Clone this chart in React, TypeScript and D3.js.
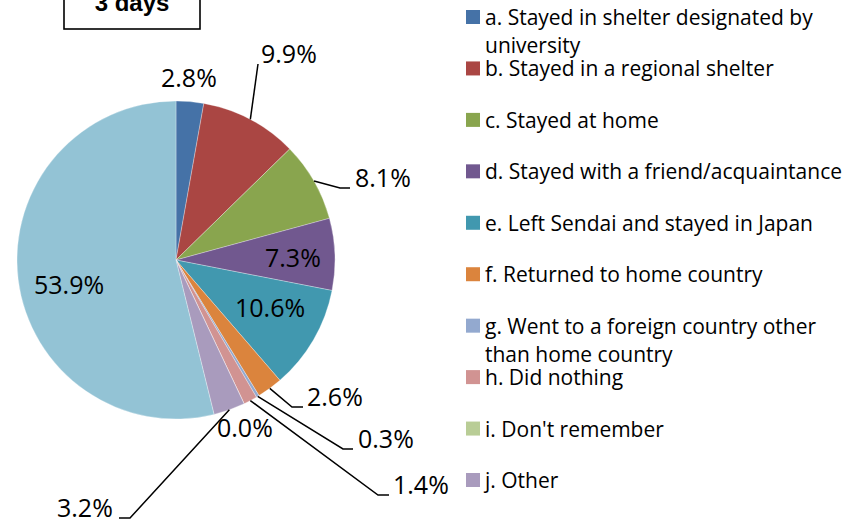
import React from "react";
import * as d3 from "d3";

const categories = [
  "a. Stayed in shelter designated by university",
  "b. Stayed in a regional shelter",
  "c. Stayed at home",
  "d. Stayed with a friend/acquaintance",
  "e. Left Sendai and stayed in Japan",
  "f. Returned to home country",
  "g. Went to a foreign country other than home country",
  "h. Did nothing",
  "i. Don't remember",
  "j. Other",
  "k. (no answer)",
];
const values = [2.8, 9.9, 8.1, 7.3, 10.6, 2.6, 0.3, 1.4, 0.0, 3.2, 53.9];
const colors = [
  "#4572A7", "#AA4643", "#89A54E", "#71588F", "#4198AF",
  "#DB843D", "#93A9CF", "#D19392", "#B9CD96", "#A99BBD", "#93C3D5",
];
// legend shows first 10 entries; line breaks as in the reference
const legendBreak = [34, null, null, null, null, null, 34, null, null, null];
const title = "3 days";

// label layout: [x, y, kind, elbowX, endX] kind: 0 plain, 1 leader w/ elbow, 2 straight leader
const labelLayout: [number, number, number, number, number][] = [
  [161, 87, 0, 0, 0],
  [261, 63, 2, 258, 258],
  [355, 187, 1, 340, 350],
  [265, 267, 0, 0, 0],
  [235, 317, 0, 0, 0],
  [307, 406, 1, 292, 303],
  [358, 448, 1, 343, 353],
  [393, 494, 1, 378, 389],
  [217, 437, 0, 0, 0],
  [57, 517, 3, 130, 119],
  [34, 294, 0, 0, 0],
];

const W = 857, H = 524;
const cx = 176, cy = 260, R = 159;
const labelFont = "'Open Sans', sans-serif";

export default function App() {
  const pie = d3.pie<number>().sort(null).value((d) => d)(values);
  const arc = d3.arc<d3.PieArcDatum<number>>().innerRadius(0).outerRadius(R);
  const fmt = d3.format(".1f");

  const legendY = d3.scaleLinear().domain([0, 9]).range([17, 480]);

  return (
    <svg width={W} height={H} style={{ position: "absolute", left: 0, top: 0, background: "#fff" }}>
      <rect x={0} y={0} width={W} height={H} fill="#fff" />
      <rect x={64} y={-40} width={136} height={69} fill="#fff" stroke="#000" strokeWidth={1.6} />
      <text x={132} y={11} textAnchor="middle" fontFamily="'Liberation Sans', Arial, sans-serif" fontWeight="bold" fontSize={24} fill="#000">
        {title}
      </text>
      <g transform={`translate(${cx},${cy})`}>
        {pie.map((p, i) => (
          <path key={i} d={arc(p) || ""} fill={colors[i]} stroke="#fff" strokeWidth={0.5} strokeOpacity={0.6} />
        ))}
      </g>
      {pie.map((p, i) => {
        const [lx, ly, kind, ex, endX] = labelLayout[i];
        const mid = (p.startAngle + p.endAngle) / 2;
        const ax = cx + R * Math.sin(mid);
        const ay = cy - R * Math.cos(mid);
        let line = null;
        if (kind === 1 || kind === 3) {
          const yy = ly + 1;
          line = <polyline points={`${ax},${ay} ${ex},${yy} ${endX},${yy}`} fill="none" stroke="#000" strokeWidth={1.5} />;
        } else if (kind === 2) {
          line = <line x1={ax} y1={ay} x2={ex} y2={ly + 1} stroke="#000" strokeWidth={1.5} />;
        }
        return (
          <g key={"l" + i}>
            {line}
            <text x={lx} y={ly} fontFamily={labelFont} fontSize={25} fill="#000">
              {fmt(values[i]) + "%"}
            </text>
          </g>
        );
      })}
      {categories.slice(0, 10).map((c, i) => {
        const y = legendY(i);
        const br = legendBreak[i];
        const lines = br ? [c.slice(0, br), c.slice(br + 1)] : [c];
        return (
          <g key={"lg" + i}>
            <rect x={466} y={y - 7} width={14} height={14} fill={colors[i]} />
            {lines.map((t, j) => (
              <text key={j} x={485} y={y + 8 + j * 28} fontFamily={labelFont} fontSize={21} fill="#000">
                {t}
              </text>
            ))}
          </g>
        );
      })}
    </svg>
  );
}
